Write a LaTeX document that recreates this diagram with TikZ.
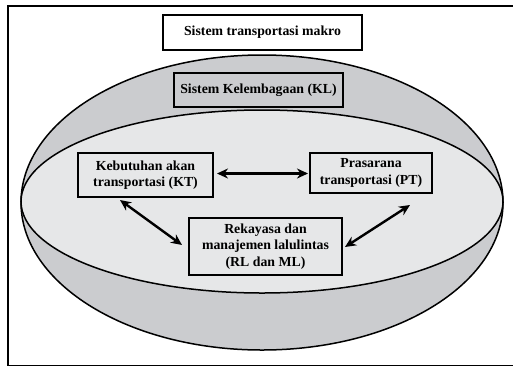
\documentclass[tikz,border=0pt]{standalone}
\usepackage{fontspec}
\setmainfont{Liberation Serif}
\usetikzlibrary{arrows.meta,shapes.geometric}
\definecolor{outergray}{RGB}{203,204,207}
\definecolor{innergray}{RGB}{230,231,232}
\tikzset{
  box/.style={draw=black,line width=1.4pt,align=center,font=\bfseries\fontsize{13.8}{16.5}\selectfont,inner sep=0pt},
  dbl/.style={{Stealth[length=11pt,width=10pt]}-{Stealth[length=11pt,width=10pt]},line width=2.4pt},
}
\begin{document}
\begin{tikzpicture}[x=1pt,y=-1pt]
\useasboundingbox (0,0) rectangle (513,367);
% frame (right edge outside the picture)
\draw[line width=1.2pt] (520,6) -- (8,6) -- (8,365.5) -- (520,365.5);
% ellipses
\draw[line width=1.5pt,fill=outergray] (262,202.5) ellipse [x radius=241,y radius=147.5];
\draw[line width=1.5pt,fill=innergray] (262,201.5) ellipse [x radius=241,y radius=91.5];
% boxes
\node[box,fill=white,minimum width=199pt,minimum height=35pt] (stm) at (262.5,32.5) {Sistem transportasi makro};
\node[box,fill=outergray,minimum width=169pt,minimum height=34pt] (kl) at (258.5,90) {Sistem Kelembagaan (KL)};
\node[box,fill=innergray,minimum width=135pt,minimum height=44pt] (kt) at (145.5,175) {Kebutuhan akan\\transportasi (KT)};
\node[box,fill=innergray,minimum width=122pt,minimum height=40pt] (pt) at (371,173) {Prasarana\\transportasi (PT)};
\node[box,fill=innergray,minimum width=153pt,minimum height=57pt] (rl) at (265.5,246.5) {Rekayasa dan\\manajemen lalulintas\\(RL dan ML)};
% arrows
\coordinate (a1) at (120,200);
\coordinate (a2) at (182,245);
\coordinate (b1) at (410,205);
\coordinate (b2) at (345,247);
\coordinate (h1) at (217,173.5);
\coordinate (h2) at (308,173.5);
\draw[dbl] (h1) -- (h2);
\draw[dbl] (a1) -- (a2);
\draw[dbl] (b1) -- (b2);
\end{tikzpicture}
\end{document}
